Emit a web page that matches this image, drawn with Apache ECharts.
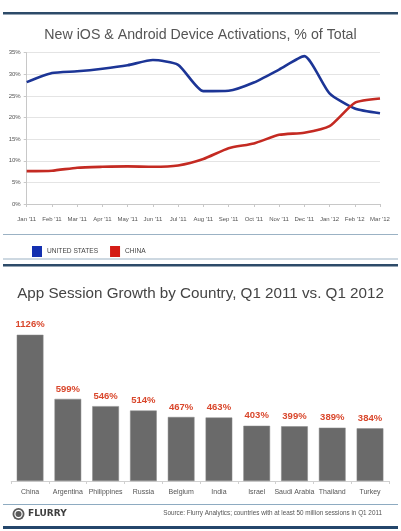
<!DOCTYPE html>
<html><head><meta charset="utf-8">
<script src="https://cdn.jsdelivr.net/npm/echarts@6/dist/echarts.min.js"></script>
<style>html,body{margin:0;padding:0;background:#fff}#c{width:401px;height:531px}</style>
</head><body><div id="c"></div>
<script>
const months = ["Jan '11","Feb '11","Mar '11","Apr '11","May '11","Jun '11","Jul '11","Aug '11","Sep '11","Oct '11","Nov '11","Dec '11","Jan '12","Feb '12","Mar '12"];
const usShare = [28.2,30.3,30.7,31.3,32.1,33.3,32.2,26.1,26.2,28.1,31.1,34.2,25.6,22.1,21.0];
const chinaShare = [7.6,7.7,8.4,8.6,8.7,8.6,8.9,10.4,12.9,14.0,16.0,16.5,18.0,23.4,24.4];
const pctTicks = [0,5,10,15,20,25,30,35];
const countries = ["China","Argentina","Philippines","Russia","Belgium","India","Israel","Saudi Arabia","Thailand","Turkey"];
const growth = [1126,599,546,514,467,463,403,399,389,384];

const chart = echarts.init(document.getElementById('c'), null, {renderer:'canvas'});
const F = 'Liberation Sans, Arial, sans-serif';
chart.setOption({
  animation:false,
  textStyle:{fontFamily:F},
  title:[
    {text:'New iOS & Android Device Activations, % of Total', left:'center', top:23.5,
     textStyle:{fontSize:14.2, fontWeight:'normal', color:'#555', fontFamily:F}},
    {text:'App Session Growth by Country, Q1 2011 vs. Q1 2012', left:'center', top:281,
     textStyle:{fontSize:15.2, fontWeight:'normal', color:'#444', fontFamily:F}}
  ],
  legend:{left:27, top:241, itemWidth:10, itemHeight:11, itemGap:12, icon:'rect',
    textStyle:{fontSize:6.6, color:'#444'},
    data:['UNITED STATES','CHINA']},
  grid:[
    {left:26.7, top:52.7, width:353.3, height:151.3},
    {left:11.2, top:335, width:377.7, height:146}
  ],
  xAxis:[
    {type:'category', gridIndex:0, data:months, boundaryGap:false,
     axisLine:{lineStyle:{color:'#c8c8c8'}},
     axisTick:{show:true, alignWithLabel:true, interval:0, length:3, lineStyle:{color:'#c8c8c8'}},
     axisLabel:{fontSize:6, color:'#555', margin:12.5, interval:0}},
    {type:'category', gridIndex:1, data:countries,
     axisLine:{lineStyle:{color:'#d0d0d0'}},
     axisTick:{show:true, length:3, lineStyle:{color:'#d0d0d0'}},
     axisLabel:{fontSize:7, color:'#555', margin:8, interval:0}}
  ],
  yAxis:[
    {type:'value', gridIndex:0, min:pctTicks[0], max:pctTicks[pctTicks.length-1], interval:5,
     axisLine:{show:true, lineStyle:{color:'#c8c8c8'}},
     axisTick:{show:true, length:3, lineStyle:{color:'#c8c8c8'}},
     axisLabel:{fontSize:6, color:'#555', margin:6, formatter:'{value}%'},
     splitLine:{lineStyle:{color:'#e4e4e4'}}},
    {type:'value', gridIndex:1, min:0, max:1065, show:false, splitLine:{show:false}}
  ],
  series:[
    {name:'UNITED STATES', type:'line', xAxisIndex:0, yAxisIndex:0, data:usShare,
     smooth:0.2, showSymbol:false, lineStyle:{width:2.6, color:'#1c3596'}, itemStyle:{color:'#1430b0'}},
    {name:'CHINA', type:'line', xAxisIndex:0, yAxisIndex:0, data:chinaShare,
     smooth:0.2, showSymbol:false, lineStyle:{width:2.6, color:'#c42a22'}, itemStyle:{color:'#d41c16'}},
    {type:'bar', xAxisIndex:1, yAxisIndex:1, data:growth, barWidth:26.7, clip:true,
     itemStyle:{color:'#6a6a6a', borderColor:'#8a8a8a', borderWidth:0.5},
     label:{show:true, position:'top', distance:5, formatter:'{c}%', fontSize:9.5, fontWeight:'bold', color:'#d9472c'}}
  ],
  graphic:[
    {type:'rect', shape:{x:3, y:12, width:395, height:2.5}, style:{fill:'#2d4b69'}},
    {type:'rect', shape:{x:3, y:234, width:395, height:1}, style:{fill:'#9bb2c4'}},
    {type:'rect', shape:{x:3, y:258.5, width:395, height:1}, style:{fill:'#9bb2c4'}},
    {type:'rect', shape:{x:3, y:264, width:395, height:2.5}, style:{fill:'#2d4b69'}},
    {type:'rect', shape:{x:3, y:504, width:395, height:1}, style:{fill:'#8eabc1'}},
    {type:'rect', shape:{x:3, y:526, width:395, height:3}, style:{fill:'#24466b'}},
    {type:'circle', shape:{cx:18.5, cy:514, r:6}, style:{fill:'#5a5a5a'}},
    {type:'circle', shape:{cx:18.5, cy:514, r:4.2}, style:{fill:'#fff'}},
    {type:'circle', shape:{cx:18.5, cy:514, r:3}, style:{fill:'#5a5a5a'}},
    {type:'text', left:28, top:509, style:{text:'FLURRY', font:'bold 9px "DejaVu Sans", sans-serif', fill:'#3e3e3e'}},
    {type:'text', right:19, top:510.5, style:{text:'Source: Flurry Analytics; countries with at least 50 million sessions in Q1 2011', font:'6.35px '+F, fill:'#555'}}
  ]
});
</script></body></html>
